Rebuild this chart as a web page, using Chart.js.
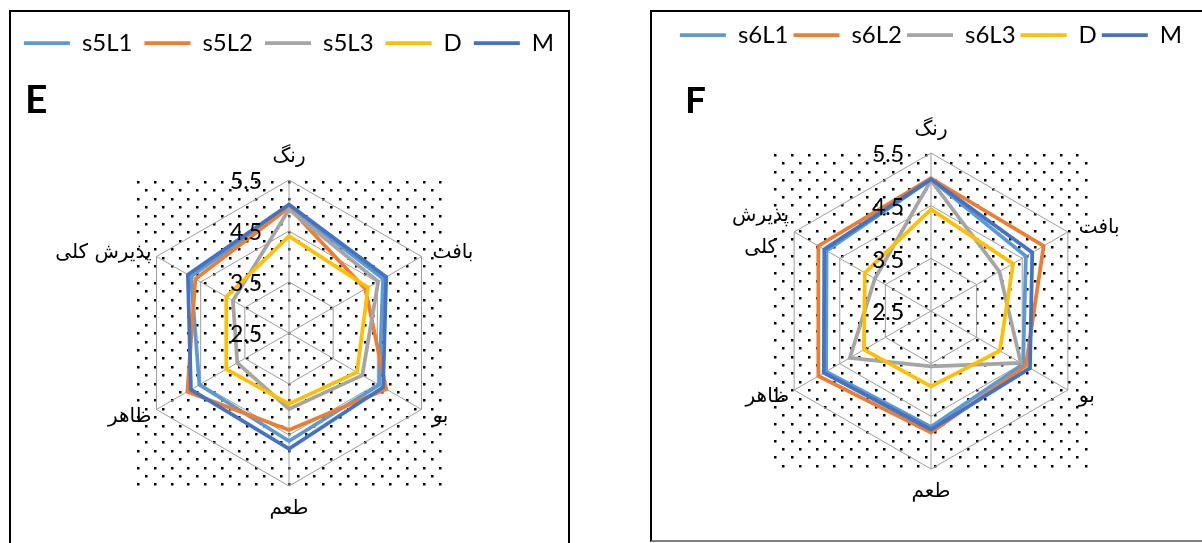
<!DOCTYPE html>
<html lang="fa">
<head>
<meta charset="utf-8">
<script src="https://cdn.jsdelivr.net/npm/chart.js@4.4.1/dist/chart.umd.min.js"></script>
<style>
  html, body { margin: 0; padding: 0; background: #fff; overflow: hidden; width: 1202px; height: 543px; }
  .frame { position: absolute; box-sizing: border-box; border: 2px solid #000; }
  #frameE { left: 9px; top: 10px; width: 561px; height: 600px; }
  #frameF { left: 650px; top: 10px; width: 600px; height: 532px; border-bottom-color: #7f7f7f; }
  canvas { position: absolute; top: 0; }
  #chartE { left: -20px; }
  #chartF { left: 651px; }
</style>
</head>
<body>
<div class="frame" id="frameE"></div>
<div class="frame" id="frameF"></div>
<canvas id="chartE" width="618" height="543"></canvas>
<canvas id="chartF" width="560" height="543"></canvas>
<script>
// Sensory attributes (spokes of the radar, clockwise from the top)
const axesE = ['رنگ', 'بافت', 'بو', 'طعم', 'ظاهر', 'پذیرش کلی'];
const axesF = ['رنگ', 'بافت', 'بو', 'طعم', 'ظاهر', ['پذیرش', 'کلی']];

// Series names
const seriesE = ['s5L1', 's5L2', 's5L3', 'D', 'M'];
const seriesF = ['s6L1', 's6L2', 's6L3', 'D', 'M'];

// Panel E scores
const s5L1 = [4.98, 4.63, 4.54, 4.62, 4.53, 4.72];
const s5L2 = [4.96, 4.23, 4.70, 4.40, 4.80, 4.62];
const s5L3 = [4.92, 4.52, 4.16, 3.99, 3.67, 3.77];
const dE   = [4.40, 4.29, 4.04, 3.89, 3.92, 3.92];
const mE   = [5.02, 4.70, 4.63, 4.77, 4.72, 4.79];

// Panel F scores
const s6L1 = [5.00, 4.58, 4.52, 4.70, 4.80, 4.79];
const s6L2 = [5.02, 4.97, 4.58, 4.81, 4.97, 4.97];
const s6L3 = [4.98, 4.00, 4.47, 3.55, 4.28, 3.73];
const dF   = [4.43, 4.30, 4.01, 3.93, 3.97, 3.95];
const mF   = [5.00, 4.72, 4.67, 4.75, 4.85, 4.84];

// Radial axis range and tick step (ticks: 2.5, 3.5, 4.5, 5.5)
const axisMin = 2.5;
const axisMax = 5.5;
const axisStep = 1;

const seriesColors = ['#5B9BD5', '#ED7D31', '#A5A5A5', '#FFC000', '#4472C4'];
const LATIN_FONT = 'Lato, "Open Sans", sans-serif';
const ARABIC_FONT = '"DejaVu Sans", sans-serif';

Chart.defaults.font.family = LATIN_FONT;

// Dotted fill behind the web, covering the square that bounds the radar
const dottedBackground = {
  id: 'dottedBackground',
  beforeDraw(chart) {
    const s = chart.scales.r;
    const ctx = chart.ctx;
    const r = s.drawingArea;
    const x0 = s.xCenter - r, y0 = s.yCenter - r, side = 2 * r;
    const step = 8.4;
    ctx.save();
    ctx.fillStyle = '#000';
    for (let j = 0; j * step <= side - 1; j++) {
      for (let i = 0; i * step <= side - 1; i++) {
        if ((i + j) % 2 === 0) {
          ctx.fillRect(Math.round(x0 + i * step + 1), Math.round(y0 + j * step + 1), 2.5, 2.5);
        }
      }
    }
    ctx.restore();
  }
};

// Value labels left of the vertical spoke, and spoke names outside the web
const radarText = {
  id: 'radarText',
  afterDatasetsDraw(chart, args, opts) {
    const s = chart.scales.r;
    const ctx = chart.ctx;
    ctx.save();
    ctx.fillStyle = '#000';
    ctx.font = '23px ' + LATIN_FONT;
    ctx.textAlign = 'right';
    ctx.textBaseline = 'middle';
    s.ticks.forEach(t => {
      const d = s.getDistanceFromCenterForValue(t.value);
      ctx.fillText(t.value.toFixed(1), s.xCenter - 27, s.yCenter - d + 2);
    });

    ctx.font = opts.labelSize + 'px ' + ARABIC_FONT;
    const lineH = opts.lineHeight;
    chart.data.labels.forEach((lab, i) => {
      const p = s.getPointPosition(i, s.drawingArea);
      const lines = Array.isArray(lab) ? lab : [lab];
      const dx = p.x - s.xCenter;
      const upper = p.y < s.yCenter;
      let x = p.x, y = p.y;
      let side = 'center';
      if (Math.abs(dx) < 1) {
        y += upper ? -opts.vGap : opts.vGap;
      } else if (dx > 0) {
        side = 'left';
        x += opts.rightGap;
        y += upper ? -4 : 7;
      } else {
        side = 'right';
        x -= opts.leftGap;
        y += upper ? (lines.length > 1 ? 0 : -4) : 7;
      }
      const widths = lines.map(l => ctx.measureText(l).width);
      const maxW = Math.max(...widths);
      let cx = x;
      if (side === 'left') cx = x + maxW / 2;
      if (side === 'right') cx = x - maxW / 2;
      ctx.textAlign = 'center';
      const yStart = y - (lines.length - 1) * lineH / 2;
      lines.forEach((l, k) => ctx.fillText(l, cx, yStart + k * lineH));
    });
    ctx.restore();
  }
};

// Panel letter in the upper-left corner
const panelTag = {
  id: 'panelTag',
  afterDraw(chart, args, opts) {
    const ctx = chart.ctx;
    ctx.save();
    ctx.fillStyle = '#000';
    ctx.font = 'bold ' + opts.size + 'px ' + LATIN_FONT;
    ctx.textAlign = 'left';
    ctx.textBaseline = 'alphabetic';
    ctx.fillText(opts.text, opts.x, opts.y);
    ctx.restore();
  }
};

function buildDatasets(names, values) {
  return names.map((name, k) => ({
    label: name,
    data: values[k],
    borderColor: seriesColors[k],
    backgroundColor: seriesColors[k],
    borderWidth: 3.75,
    borderCapStyle: 'round',
    fill: false,
    pointRadius: 0,
    pointHoverRadius: 0,
    tension: 0,
    order: names.length - k
  }));
}

function buildChart(canvasId, labels, names, values, cfg) {
  return new Chart(document.getElementById(canvasId), {
    type: 'radar',
    data: { labels: labels, datasets: buildDatasets(names, values) },
    plugins: [dottedBackground, radarText, panelTag],
    options: {
      responsive: false,
      animation: false,
      events: [],
      layout: { autoPadding: false, padding: { top: cfg.padTop, left: 0, right: 0, bottom: cfg.padBottom } },
      scales: {
        r: {
          min: axisMin,
          max: axisMax,
          ticks: { stepSize: axisStep, display: false },
          pointLabels: { display: false },
          grid: { color: '#9e9e9e', lineWidth: 1, circular: false },
          angleLines: { color: '#9e9e9e', lineWidth: 1 }
        }
      },
      plugins: {
        tooltip: { enabled: false },
        legend: {
          position: 'top',
          labels: {
            usePointStyle: true,
            pointStyle: 'line',
            pointStyleWidth: cfg.swatch,
            padding: cfg.legendPad,
            color: '#000',
            font: { size: 24, family: LATIN_FONT },
            sort: (a, b) => a.datasetIndex - b.datasetIndex
          }
        },
        title: {
          display: true,
          text: '',
          weight: 500,
          font: { size: 1, lineHeight: 1 },
          padding: { top: cfg.gap, bottom: 0 }
        },
        panelTag: { text: cfg.tag, x: cfg.tagX, y: 113, size: cfg.tagSize },
        radarText: { labelSize: 20, lineHeight: 32, vGap: 23, rightGap: 11, leftGap: 5 }
      }
    }
  });
}

buildChart('chartE', axesE, seriesE, [s5L1, s5L2, s5L3, dE, mE],
  { padTop: 19, padBottom: 56, legendPad: 12, swatch: 46, gap: 114, tag: 'E', tagX: 45, tagSize: 39 });
buildChart('chartF', axesF, seriesF, [s6L1, s6L2, s6L3, dF, mF],
  { padTop: 18, padBottom: 74, legendPad: 5, swatch: 46, gap: 95, tag: 'F', tagX: 34, tagSize: 37 });
</script>
</body>
</html>
